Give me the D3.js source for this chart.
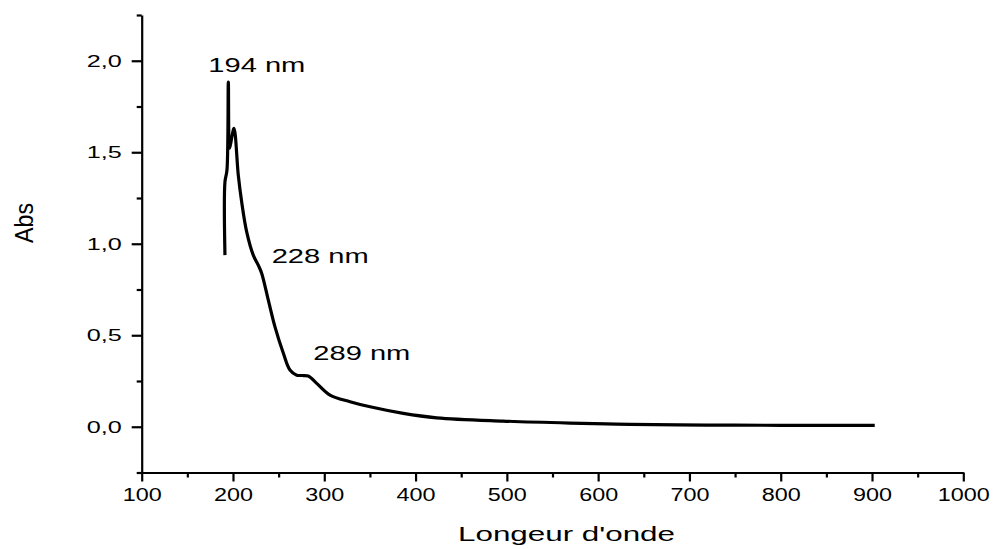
<!DOCTYPE html>
<html>
<head>
<meta charset="utf-8">
<script src="https://cdn.jsdelivr.net/npm/d3@7"></script>
<style>
  html, body { margin: 0; padding: 0; background: #fff; }
  svg { display: block; }
  text { font-family: "Liberation Sans", Arial, sans-serif; fill: #000; }
</style>
</head>
<body>
<svg id="chart" width="996" height="549"></svg>
<script>
// ---- data ----
const wavelength = [191.2, 191.2, 193.4, 194.9, 196.2, 197.8, 201.1, 205.8, 209.5, 215.0, 222.2, 227.7, 231.4, 238.7, 246.0, 255.1, 262.4, 269.8, 276.0, 282.5, 291.7, 306.3, 328.2, 350.2, 386.6, 423.1, 495.8, 569.0, 609.0, 635.0, 719.0, 800.0, 903.0];
const absorbance = [0.938, 1.338, 1.402, 1.884, 1.522, 1.557, 1.630, 1.375, 1.229, 1.065, 0.938, 0.883, 0.839, 0.692, 0.546, 0.403, 0.310, 0.282, 0.280, 0.277, 0.237, 0.173, 0.137, 0.109, 0.073, 0.049, 0.031, 0.020, 0.016, 0.013, 0.009, 0.008, 0.007];

const xMajorTicks = [100, 200, 300, 400, 500, 600, 700, 800, 900, 1000];
const xMinorTicks = [150, 250, 350, 450, 550, 650, 750, 850, 950];
const yMajorTicks = [0.0, 0.5, 1.0, 1.5, 2.0];
const yMinorTicks = [-0.25, 0.25, 0.75, 1.25, 1.75, 2.25];

const peakLabels = ["194 nm", "228 nm", "289 nm"];
const peakLabelX = [208.3, 271.7, 313.3];   // left edge positions (pixels)
const peakLabelY = [71.7, 263.3, 360];      // baselines (pixels)

const xTitle = "Longeur d'onde";
const yTitle = "Abs";

// ---- chart ----
const svg = d3.select("#chart");
const x = d3.scaleLinear().domain([100, 1000]).range([141.7, 963.3]);
const y = d3.scaleLinear().domain([-0.25, 2.25]).range([472.5, 15]);

const fmtY = d => d3.format(".1f")(d).replace(".", ",");

// X axis
const gx = svg.append("g").attr("transform", `translate(0,${y(-0.25)})`);
gx.call(d3.axisBottom(x).tickValues(xMinorTicks).tickSize(5).tickSizeOuter(0).tickFormat(""));
const gx2 = svg.append("g").attr("transform", `translate(0,${y(-0.25)})`);
gx2.call(d3.axisBottom(x).tickValues(xMajorTicks).tickSize(9).tickSizeOuter(0).tickFormat(d3.format("d")));
gx2.select(".domain").remove();
gx2.selectAll("text")
  .attr("font-size", 18)
  .attr("dy", "0.71em")
  .attr("y", 15.5)
  .attr("textLength", d => String(d).length * 13)
  .attr("lengthAdjust", "spacingAndGlyphs")
  .style("font-family", '"Liberation Sans", Arial, sans-serif')
  .attr("fill", "#000");

// Y axis
const gy = svg.append("g").attr("transform", `translate(${x(100)},0)`);
gy.call(d3.axisLeft(y).tickValues(yMinorTicks).tickSize(5).tickSizeOuter(0).tickFormat(""));
const gy2 = svg.append("g").attr("transform", `translate(${x(100)},0)`);
gy2.call(d3.axisLeft(y).tickValues(yMajorTicks).tickSize(10).tickSizeOuter(0).tickFormat(fmtY).tickPadding(10));
gy2.select(".domain").remove();
gy2.selectAll("text")
  .attr("font-size", 16)
  .attr("dy", null)
  .attr("y", 5.5)
  .attr("textLength", 35)
  .attr("lengthAdjust", "spacingAndGlyphs")
  .style("font-family", '"Liberation Sans", Arial, sans-serif')
  .attr("fill", "#000");

svg.selectAll(".domain, .tick line").attr("stroke", "#000").attr("stroke-width", 2.2);

// Line
const line = d3.line()
  .x((d, i) => x(wavelength[i]))
  .y(d => y(d))
  .curve(d3.curveCatmullRom.alpha(0.5));
svg.append("path")
  .datum(absorbance)
  .attr("fill", "none")
  .attr("stroke", "#000")
  .attr("stroke-width", 3.2)
  .attr("stroke-linejoin", "round")
  .attr("d", line);

// Peak labels
svg.selectAll(".peak")
  .data(peakLabels)
  .enter().append("text")
  .attr("class", "peak")
  .attr("x", (d, i) => peakLabelX[i])
  .attr("y", (d, i) => peakLabelY[i])
  .attr("font-size", 20)
  .attr("textLength", 97)
  .attr("lengthAdjust", "spacingAndGlyphs")
  .text(d => d);

// Axis titles
svg.append("text")
  .attr("x", 566.5).attr("y", 541)
  .attr("text-anchor", "middle")
  .attr("font-size", 20)
  .attr("textLength", 217)
  .attr("lengthAdjust", "spacingAndGlyphs")
  .text(xTitle);

svg.append("text")
  .attr("transform", "translate(33,223) rotate(-90)")
  .attr("text-anchor", "middle")
  .attr("font-size", 25)
  .attr("textLength", 40)
  .attr("lengthAdjust", "spacingAndGlyphs")
  .text(yTitle);
</script>
</body>
</html>
